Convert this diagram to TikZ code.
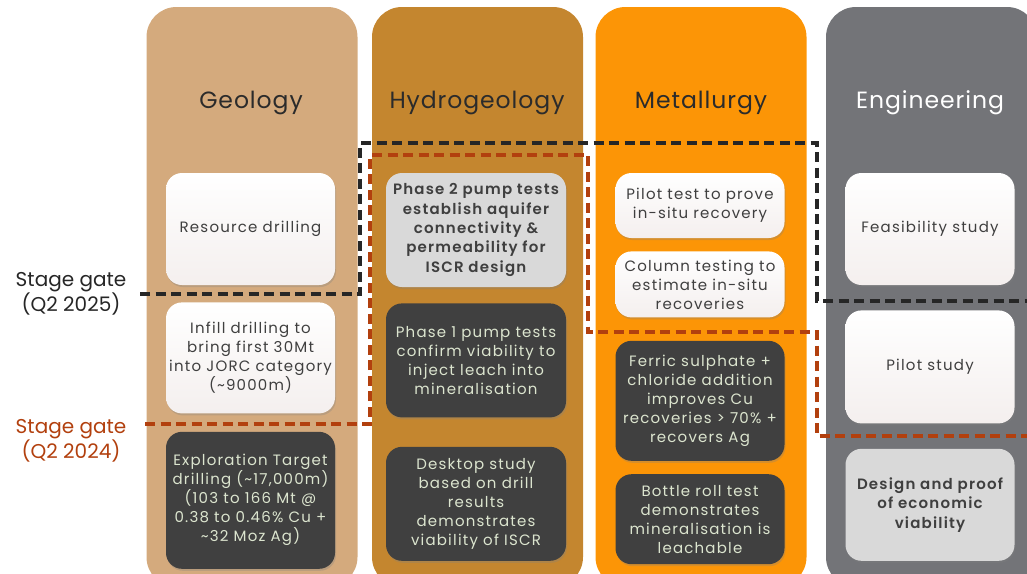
\documentclass[tikz,border=0pt]{standalone}
\usepackage{fontspec}
\setmainfont{Poppins}[BoldFont={Poppins SemiBold}]
\newfontfamily\cardfont{Poppins}[LetterSpace=8, BoldFont={Poppins SemiBold}]
\newfontfamily\headfont{Poppins}[LetterSpace=4]
\usepackage{xcolor}
\usetikzlibrary{positioning,shadows}

\definecolor{geocol}{HTML}{D4AA7D}
\definecolor{hydrocol}{HTML}{C4862F}
\definecolor{metalcol}{HTML}{FC9506}
\definecolor{engcol}{HTML}{737478}
\definecolor{headcol}{HTML}{2B2B2B}
\definecolor{cardtext}{HTML}{3F3F3F}
\definecolor{cardbot}{HTML}{F4EFEE}
\definecolor{greybox}{HTML}{D9D9D9}
\definecolor{darkbox}{HTML}{404040}
\definecolor{darktext}{HTML}{DCE5CF}
\definecolor{gatedark}{HTML}{262626}
\definecolor{gatered}{HTML}{B2400E}

\begin{document}
\begin{tikzpicture}[x=1pt, y=-1pt, node distance=17pt,
    column/.style={rectangle, rounded corners=30pt, minimum width=211pt, minimum height=580pt, inner sep=0pt},
    head/.style={font=\headfont\fontsize{23.5}{28}\selectfont, text=headcol},
    card/.style={rectangle, rounded corners=16pt, minimum width=169pt, align=center, inner sep=1pt,
        font=\cardfont\fontsize{15}{19}\selectfont, drop shadow={opacity=0.3, shadow xshift=1pt, shadow yshift=-2pt}},
    light/.style={card, top color=white, bottom color=cardbot, text=cardtext},
    grey/.style={card, fill=greybox, text=cardtext, font=\cardfont\fontsize{15}{19.3}\selectfont\bfseries},
    dark/.style={card, fill=darkbox, text=darktext},
    gate/.style={line width=3.5pt, dash pattern=on 10pt off 5.5pt},
    gatelabel/.style={align=center, font=\fontsize{20}{22.5}\selectfont}]

    \clip (0,0) rectangle (1027,573);

    % columns
    \node (geology) [column, fill=geocol] at (252,297) {};
    \node (hydro) [column, fill=hydrocol] at (477.5,297) {};
    \node (metal) [column, fill=metalcol] at (701,297) {};
    \node (eng) [column, fill=engcol] at (931.5,297) {};

    \node (geohead) [head] at (251,103) {Geology};
    \node (hydrohead) [head] at (477,103) {Hydrogeology};
    \node (metalhead) [head] at (701,103) {Metallurgy};
    \node (enghead) [head, text=white] at (930,103) {Engineering};

    % geology
    \node (resdrill) [light, minimum height=112pt] at (250.5,229) {Resource drilling};
    \node (infill) [light, minimum height=111pt, below=of resdrill] {Infill drilling to\\bring first 30Mt\\into JORC category\\(\textasciitilde9000m)};
    \node (exptarget) [dark, minimum height=137pt, below=18pt of infill] {Exploration Target\\drilling (\textasciitilde17,000m)\\(103 to 166 Mt @\\0.38 to 0.46\% Cu +\\\textasciitilde32 Moz Ag)};

    % hydrogeology
    \node (phase2) [grey, minimum width=180pt, minimum height=114pt] at (476,230) {Phase 2 pump tests\\establish aquifer\\connectivity \&\\permeability for\\ISCR design};
    \node (phase1) [dark, minimum width=180pt, minimum height=114pt, below=16pt of phase2] {Phase 1 pump tests\\confirm viability to\\inject leach into\\mineralisation};
    \node (desktop) [dark, minimum width=180pt, minimum height=114pt, below=29pt of phase1] {Desktop study\\based on drill\\results\\demonstrates\\viability of ISCR};

    % metallurgy
    \node (pilottest) [light, minimum height=65pt] at (700,205.5) {Pilot test to prove\\in-situ recovery};
    \node (columntest) [light, minimum height=66pt, below=13pt of pilottest] {Column testing to\\estimate in-situ\\recoveries};
    \node (ferric) [dark, minimum height=120pt, below=23pt of columntest] {Ferric sulphate +\\chloride addition\\improves Cu\\recoveries > 70\% +\\recovers Ag};
    \node (bottleroll) [dark, minimum height=90pt, below=13pt of ferric] {Bottle roll test\\demonstrates\\mineralisation is\\leachable};

    % engineering
    \node (feasibility) [light, minimum height=112pt] at (930,229) {Feasibility study};
    \node (pilotstudy) [light, minimum height=113pt, below=25pt of feasibility] {Pilot study};
    \node (design) [grey, minimum height=112pt, below=25pt of pilotstudy] {Design and proof\\of economic\\viability};

    % stage gates
    \node (gatea) [gatelabel, text=gatedark] at (71,294) {Stage gate\\(Q2 2025)};
    \node (gateb) [gatelabel, text=gatered] at (71,441) {Stage gate\\(Q2 2024)};

    \draw [gate, gatedark] (140,294) -- (360,294) -- (360,143) -- (817,143) -- (817,301) -- (1030,301);
    \draw [gate, gatered] (145,424) -- (370,424) -- (370,155) -- (588,155) -- (588,332) -- (817,332) -- (817,436) -- (1030,436);
\end{tikzpicture}
\end{document}
